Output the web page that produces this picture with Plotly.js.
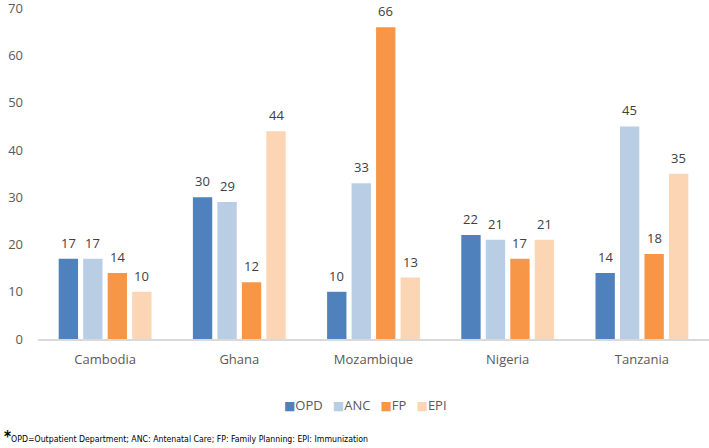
<!DOCTYPE html>
<html><head><meta charset="utf-8">
<script src="https://cdn.plot.ly/plotly-3.0.1.min.js"></script>
<style>html,body{margin:0;padding:0;background:#fff}</style>
</head><body><div id="chart" style="width:709px;height:448px"></div>
<script>
const categories = ["Cambodia","Ghana","Mozambique","Nigeria","Tanzania"];
const seriesNames = ["OPD","ANC","FP","EPI"];
const OPD = [17,30,10,22,14];
const ANC = [17,29,33,21,45];
const FP  = [14,12,66,17,18];
const EPI = [10,44,13,21,35];
const colors = ["#4f81bd","#b9cde5","#f79646","#fcd5b5"];
const yTicks = [0,10,20,30,40,50,60,70];
const footnote = "OPD=Outpatient Department; ANC: Antenatal Care; FP: Family Planning: EPI: Immunization";

const seriesValues = [OPD, ANC, FP, EPI];
const bargap = 0.27, bargroupgap = 0.21;
const font = "Open Sans, Lato, sans-serif";
const yMax = yTicks[yTicks.length - 1];

const traces = seriesValues.map((vals, i) => ({
  type: "bar", name: seriesNames[i], x: categories, y: vals,
  marker: {color: colors[i]}, hoverinfo: "none", showlegend: false
}));

const slot = (1 - bargap) / seriesValues.length;
const annotations = [];
seriesValues.forEach((vals, i) => {
  vals.forEach((v, j) => {
    annotations.push({
      x: j + (i - (seriesValues.length - 1) / 2) * slot, y: v,
      xref: "x", yref: "y", text: String(v), showarrow: false,
      yanchor: "bottom", yshift: 5,
      font: {family: font, size: 13, color: "#404040"}
    });
  });
});
// top tick label (axis hides the label at the very top edge)
annotations.push({
  xref: "paper", yref: "y", x: 0, y: yMax, xanchor: "right", yanchor: "middle",
  xshift: -13, text: String(yMax), showarrow: false,
  font: {family: font, size: 13, color: "#595959"}
});
// legend
const legendText = seriesNames.map((n, i) =>
  '<span style="color:' + colors[i] + ';font-size:12px;font-family:DejaVu Sans">■</span>' + n
).join('&nbsp;&nbsp;&nbsp;');
annotations.push({
  xref: "paper", yref: "paper", x: (365 - 38) / 671, y: (339 - 405) / 332,
  xanchor: "center", yanchor: "middle", showarrow: false,
  text: legendText, font: {family: font, size: 13, color: "#595959"}
});
annotations.push({
  xref: "paper", yref: "paper", x: -0.0537, y: (339 - 437) / 332, xanchor: "left", yanchor: "middle",
  showarrow: false, align: "left",
  text: '<span style="font-size:15px;font-weight:bold">*</span>' + footnote,
  font: {family: "DejaVu Sans Condensed, sans-serif", size: 8.7, color: "#000"}
});

const layout = {
  width: 709, height: 448,
  margin: {l: 38, r: 0, t: 7, b: 109},
  paper_bgcolor: "#fff", plot_bgcolor: "#fff",
  barmode: "group", bargap: bargap, bargroupgap: bargroupgap,
  showlegend: false,
  xaxis: {type: "category", range: [-0.5, 4.5], showgrid: false, zeroline: false,
          showline: true, linecolor: "#d9d9d9", linewidth: 1.5, ticks: "",
          ticklabelstandoff: 8,
          tickfont: {family: font, size: 13, color: "#595959"}},
  yaxis: {range: [0, 70.3], tickvals: yTicks.slice(0, -1), showgrid: false, zeroline: false, showline: false,
          ticks: "", ticklabelstandoff: 14,
          tickfont: {family: font, size: 13, color: "#595959"}},
  annotations: annotations
};
Plotly.newPlot("chart", traces, layout, {displayModeBar: false, staticPlot: true});
</script></body></html>
